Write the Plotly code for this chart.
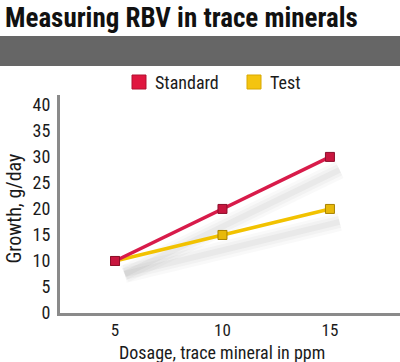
import plotly.graph_objects as go

dosage = [5, 10, 15]
standard = [10, 20, 30]
test = [10, 15, 20]
y_ticks = [0, 5, 10, 15, 20, 25, 30, 35, 40]
x_ticks = [5, 10, 15]
series_names = ["Standard", "Test"]

RED = "#d81b4a"
RED_M = "#c8163f"
RED_B = "#8c0f2c"
YEL = "#f2c200"
YEL_M = "#e8b90a"
YEL_B = "#a88200"
FONT = "Liberation Sans Narrow, Roboto Condensed, Arial Narrow, sans-serif"

fig = go.Figure()

# soft shadows under the lines
for series in (standard, test):
    for w, a in ((18, 0.04), (12, 0.05), (6, 0.06)):
        fig.add_trace(go.Scatter(
            x=[d + 0.45 for d in dosage], y=[v - 2.5 for v in series],
            mode="lines", line=dict(color=f"rgba(110,110,110,{a})", width=w),
            hoverinfo="skip", showlegend=False))

fig.add_trace(go.Scatter(
    x=dosage, y=test, mode="lines+markers", name=series_names[1],
    line=dict(color=YEL, width=3.5),
    marker=dict(symbol="square", size=9, color=YEL_M, line=dict(color=YEL_B, width=1)),
    showlegend=False))
fig.add_trace(go.Scatter(
    x=dosage, y=standard, mode="lines+markers", name=series_names[0],
    line=dict(color=RED, width=3.5),
    marker=dict(symbol="square", size=9, color=RED_M, line=dict(color=RED_B, width=1)),
    showlegend=False))

# custom legend (squares + labels)
legend_shapes = [
    dict(type="rect", xref="paper", yref="paper", x0=0.2118, x1=0.2529, y0=1.0275, y1=1.0917,
         fillcolor="#e0163f", line=dict(color="#b01030", width=1)),
    dict(type="rect", xref="paper", yref="paper", x0=0.55, x1=0.5912, y0=1.0275, y1=1.0917,
         fillcolor="#f4c410", line=dict(color="#d8a800", width=1)),
]
legend_texts = [
    dict(text=series_names[0], xref="paper", yref="paper", x=0.2735, y=1.0596,
         xanchor="left", yanchor="middle", showarrow=False,
         font=dict(size=18, color="#1a1a1a")),
    dict(text=series_names[1], xref="paper", yref="paper", x=0.6118, y=1.0596,
         xanchor="left", yanchor="middle", showarrow=False,
         font=dict(size=18, color="#1a1a1a")),
]

fig.update_layout(
    width=400, height=362,
    margin=dict(l=60, r=0, t=95, b=49, autoexpand=False),
    paper_bgcolor="white", plot_bgcolor="white",
    font=dict(family=FONT, size=18, color="#1a1a1a"),
    showlegend=False,
    xaxis=dict(range=[2.44, 18.26], tickvals=x_ticks, showgrid=False, zeroline=False,
               showline=True, linecolor="#8a8a8a", linewidth=3, ticks="",
               tickfont=dict(size=17)),
    yaxis=dict(range=[0, 41.9], tickvals=y_ticks, showgrid=False, zeroline=False,
               showline=True, linecolor="#8a8a8a", linewidth=3, ticks="",
               ticklabelstandoff=3, tickfont=dict(size=18)),
    shapes=[dict(type="rect", xref="paper", yref="paper",
                 x0=-0.18, x1=1.0, y0=1.133, y1=1.271,
                 fillcolor="#666666", line=dict(width=0), layer="above")] + legend_shapes,
    annotations=[
        dict(text="<b>Measuring RBV in trace minerals</b>", xref="paper", yref="paper",
             x=-0.168, y=1.353, xanchor="left", yanchor="middle", showarrow=False,
             font=dict(size=27, color="#111111", family=FONT)),
        dict(text="Growth, g/day", xref="paper", yref="paper", x=-0.135, y=0.48,
             textangle=-90, xanchor="center", yanchor="middle", showarrow=False,
             font=dict(size=20, color="#1a1a1a")),
        dict(text="Dosage, trace mineral in ppm", xref="paper", yref="paper",
             x=0.477, y=-0.179, xanchor="center", yanchor="middle", showarrow=False,
             font=dict(size=18, color="#1a1a1a")),
    ] + legend_texts,
)

fig.write_html("out.html", config={"displayModeBar": False},
               post_script="document.body.style.margin='0';document.body.style.overflow='hidden';")
